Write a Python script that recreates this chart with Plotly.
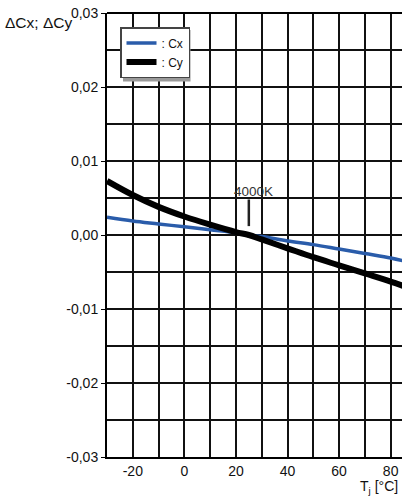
import plotly.graph_objects as go

temps = [-30, -20, -10, 0, 10, 20, 25, 30, 40, 50, 60, 70, 80, 85]
cx = [0.0024, 0.0019, 0.0015, 0.0011, 0.0007, 0.0003, 0.0, -0.0002, -0.0008, -0.0013, -0.0019, -0.0025, -0.0031, -0.0035]
cy = [0.0073, 0.0054, 0.0038, 0.0025, 0.0014, 0.0004, 0.0, -0.0006, -0.0018, -0.0030, -0.0041, -0.0052, -0.0063, -0.0069]

marker_x = [25, 25]
marker_y = [0.0012, 0.0048]
marker_label = "4000K"

x_tickvals = [-20, 0, 20, 40, 60, 80]
x_ticktext = ["-20", "0", "20", "40", "60", "80"]
x_minorvals = [-30, -10, 10, 30, 50, 70]
y_tickvals = [-0.03, -0.02, -0.01, 0.0, 0.01, 0.02, 0.03]
y_ticktext = ["-0,03", "-0,02", "-0,01", "0,00", "0,01", "0,02", "0,03"]
y_minorvals = [-0.025, -0.015, -0.005, 0.005, 0.015, 0.025]

FONT = "Liberation Sans, Arial, sans-serif"
L, R, T, B = 107, 0, 13, 42
W, H = 402, 499
PW, PH = W - L - R, H - T - B


def px_x(p):
    return (p - L) / PW


def px_y(p):
    return 1 - (p - T) / PH


fig = go.Figure()
fig.add_trace(go.Scatter(x=temps, y=cx, mode="lines", name=": Cx",
                         line=dict(color="#2a5caa", width=3.5, shape="spline")))
fig.add_trace(go.Scatter(x=temps, y=cy, mode="lines", name=": Cy",
                         line=dict(color="#000000", width=6, shape="spline")))
fig.add_trace(go.Scatter(x=marker_x, y=marker_y, mode="lines", showlegend=False,
                         line=dict(color="#222222", width=2.5)))

fig.add_annotation(x=27, y=0.0059, xref="x", yref="y", text=marker_label, showarrow=False,
                   font=dict(family=FONT, size=13.5, color="#333333"))

# y-axis title at top-left
fig.add_annotation(x=px_x(3), y=px_y(23), xref="paper", yref="paper",
                   text="ΔCx; ΔCy", showarrow=False, xanchor="left", yanchor="middle",
                   font=dict(family=FONT, size=15.5, color="#111111"))
# x-axis title at bottom-right
fig.add_annotation(x=px_x(400), y=px_y(498), xref="paper", yref="paper",
                   text="T<sub>j</sub> [°C]", showarrow=False, xanchor="right", yanchor="bottom",
                   font=dict(family=FONT, size=14, color="#111111"))

# legend shadow (legend box is drawn on top)
fig.add_shape(type="rect", xref="paper", yref="paper",
              x0=px_x(123), x1=px_x(190.5), y0=px_y(81.5), y1=px_y(30),
              line=dict(width=0), fillcolor="#9a9a9a", layer="above")
# top border
fig.add_shape(type="line", xref="paper", yref="paper", x0=0, x1=1, y0=1, y1=1,
              line=dict(color="#000000", width=2), layer="above")

grid = dict(showgrid=True, gridcolor="#111111", gridwidth=1.5)

fig.update_layout(
    template="none",
    width=W, height=H,
    margin=dict(l=L, r=R, t=T, b=B, autoexpand=False),
    paper_bgcolor="white", plot_bgcolor="white",
    font=dict(family=FONT, size=14, color="#111111"),
    showlegend=True,
    legend=dict(x=px_x(120), y=px_y(27), xanchor="left", yanchor="top",
                bgcolor="white", bordercolor="#444444", borderwidth=1.5,
                font=dict(family=FONT, size=12, color="#111111"),
                itemwidth=30, tracegroupgap=0),
    xaxis=dict(range=[-30, 84.4], tickmode="array", tickvals=x_tickvals, ticktext=x_ticktext,
               minor=dict(tickvals=x_minorvals, ticks="", **grid), **grid,
               showline=True, linecolor="#000000", linewidth=2,
               ticks="", zeroline=False, automargin=False, tickfont=dict(size=14)),
    yaxis=dict(range=[-0.03, 0.03], tickmode="array", tickvals=y_tickvals, ticktext=y_ticktext,
               minor=dict(tickvals=y_minorvals, ticks="", **grid), **grid,
               showline=True, linecolor="#000000", linewidth=2,
               ticks="outside", ticklen=4, tickcolor="#000000", zeroline=False,
               automargin=False, tickfont=dict(size=14)),
)

fig.write_html("out.html", config={"displayModeBar": False},
               post_script="document.body.style.margin='0px';document.body.style.overflow='hidden';")
